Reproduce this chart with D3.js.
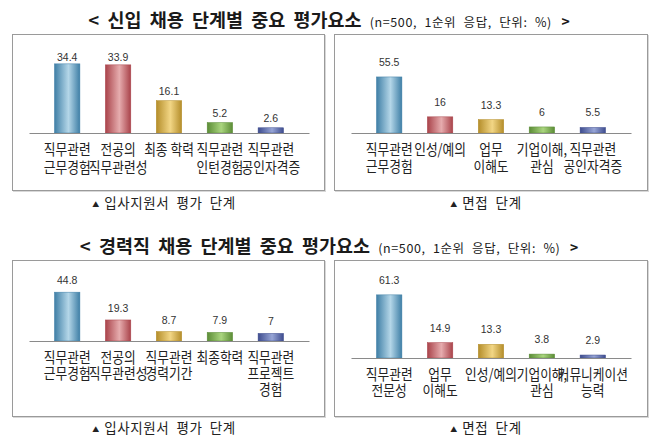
<!DOCTYPE html>
<html><head><meta charset="utf-8">
<script src="https://cdn.jsdelivr.net/npm/d3@7"></script>
<style>
html,body{margin:0;padding:0;background:#fff;}
svg{display:block;font-family:"Noto Sans CJK KR","Noto Sans",sans-serif;}
</style></head>
<body><svg id="c" width="658" height="446"></svg>
<script>
// ---- data ----
const titleNew = "< 신입 채용 단계별 중요 평가요소";
const titleExp = "< 경력직 채용 단계별 중요 평가요소";
const subTitle = "(n=500, 1순위 응답, 단위: %)";
const captionDoc = "입사지원서  평가  단계";
const captionInt = "면접  단계";

const newDocCats = ["직무관련\n근무경험", "전공의\n직무관련성", "최종 학력", "직무관련\n인턴경험", "직무관련\n공인자격증"];
const newDocVals = [34.4, 33.9, 16.1, 5.2, 2.6];
const newIntCats = ["직무관련\n근무경험", "인성/예의", "업무\n이해도", "기업이해,\n관심", "직무관련\n공인자격증"];
const newIntVals = [55.5, 16, 13.3, 6, 5.5];
const expDocCats = ["직무관련\n근무경험", "전공의\n직무관련성", "직무관련\n경력기간", "최종학력", "직무관련\n프로젝트\n경험"];
const expDocVals = [44.8, 19.3, 8.7, 7.9, 7];
const expIntCats = ["직무관련\n전문성", "업무\n이해도", "인성/예의", "기업이해,\n관심", "커뮤니케이션\n능력"];
const expIntVals = [61.3, 14.9, 13.3, 3.8, 2.9];

const barColors = [
  ["#3f7fa6", "#b4d6e8"],
  ["#a9434a", "#e6acae"],
  ["#b48d2a", "#f2d685"],
  ["#5b8c36", "#aad57f"],
  ["#3e4c8e", "#97a5d6"]
];

// ---- drawing ----
const svg = d3.select("#c");
const defs = svg.append("defs");
barColors.forEach((c, i) => {
  const g = defs.append("linearGradient").attr("id", "g" + i)
    .attr("x1", "0%").attr("x2", "100%").attr("y1", "0%").attr("y2", "0%");
  g.append("stop").attr("offset", "0%").attr("stop-color", c[0]);
  g.append("stop").attr("offset", "55%").attr("stop-color", c[1]);
  g.append("stop").attr("offset", "100%").attr("stop-color", c[0]);
});

function title(y, main) {
  const t = svg.append("text").attr("x", 329).attr("y", y)
    .attr("text-anchor", "middle").attr("fill", "#1a1a1a").style("white-space", "pre");
  t.append("tspan").attr("font-size", 18.5).attr("font-weight", "bold").attr("word-spacing", 4).text(main + " ");
  t.append("tspan").attr("font-size", 12.5).attr("letter-spacing", 0.6).attr("word-spacing", 4).text(subTitle);
  t.append("tspan").attr("font-size", 14).attr("font-weight", "bold").text("   >");
}
title(27, titleNew);
title(253, titleExp);

function panel(p) {
  const g = svg.append("g");
  g.append("rect").attr("x", p.x + 1.5).attr("y", p.y + 1.5).attr("width", p.w).attr("height", p.h)
    .attr("fill", "none").attr("stroke", "#d8d8d8").attr("stroke-width", 1);
  g.append("rect").attr("x", p.x + 0.5).attr("y", p.y + 0.5).attr("width", p.w).attr("height", p.h)
    .attr("fill", "#fff").attr("stroke", "#9a9a9a").attr("stroke-width", 1);

  const x = d3.scaleBand().domain(p.cats).range([p.x + 17, p.x + 297]).padding(0.5);
  const y = d3.scaleLinear().domain([0, 100]).range([p.base, p.base - p.pxPer100]);

  g.selectAll("rect.bar").data(p.vals).join("rect").attr("class", "bar")
    .attr("x", (d, i) => x(p.cats[i]))
    .attr("width", x.bandwidth())
    .attr("y", d => y(d))
    .attr("height", d => y(0) - y(d))
    .attr("fill", (d, i) => `url(#g${i})`)
    .attr("stroke", (d, i) => barColors[i][0]).attr("stroke-width", 0.5);

  // baseline axis
  const ax = g.append("g").attr("transform", `translate(0,${p.base})`)
    .call(d3.axisBottom(x).tickSize(0).tickFormat(""));
  ax.select(".domain").attr("stroke", "#8a8a8a").attr("stroke-width", 1.2);

  // value labels
  g.selectAll("text.val").data(p.vals).join("text").attr("class", "val")
    .attr("x", (d, i) => x(p.cats[i]) + x.bandwidth() / 2)
    .attr("y", d => Math.max(y(d) - p.off, p.minLabelY))
    .attr("text-anchor", "middle").attr("font-size", 10.5).attr("fill", "#333")
    .attr("font-family", "Liberation Sans, Arial, sans-serif")
    .text(d => d);

  // category labels (slightly condensed glyphs)
  p.cats.forEach((c, i) => {
    const cx = x(c) + x.bandwidth() / 2;
    c.split("\n").forEach((line, k) => {
      g.append("text").attr("text-anchor", "middle").attr("font-size", 15).attr("fill", "#222")
        .attr("transform", `translate(${cx},${p.base + 22 + k * p.lh}) scale(0.85,1)`)
        .text(line);
    });
  });

  const cap = svg.append("text").attr("x", p.x + 152).attr("y", p.capY).attr("text-anchor", "middle")
    .attr("fill", "#222").style("white-space", "pre");
  cap.append("tspan").attr("font-size", 7).attr("dy", -1).text("▲");
  cap.append("tspan").attr("font-size", 13.5).attr("dy", 1).attr("dx", 5).attr("letter-spacing", 0.6).text(p.cap);
}

panel({x: 12, y: 34, w: 312, h: 156, cats: newDocCats, vals: newDocVals, base: 133, pxPer100: 201, off: 6, minLabelY: 61, lh: 18, cap: captionDoc, capY: 208});
panel({x: 334, y: 34, w: 313, h: 156, cats: newIntCats, vals: newIntVals, base: 133, pxPer100: 101, off: 11, minLabelY: 0, lh: 17, cap: captionInt, capY: 208});
panel({x: 12, y: 260, w: 312, h: 156, cats: expDocCats, vals: expDocVals, base: 341, pxPer100: 109, off: 8, minLabelY: 0, lh: 16, cap: captionDoc, capY: 433});
panel({x: 334, y: 260, w: 313, h: 156, cats: expIntCats, vals: expIntVals, base: 358, pxPer100: 103, off: 11, minLabelY: 0, lh: 16, cap: captionInt, capY: 433});
</script></body></html>
